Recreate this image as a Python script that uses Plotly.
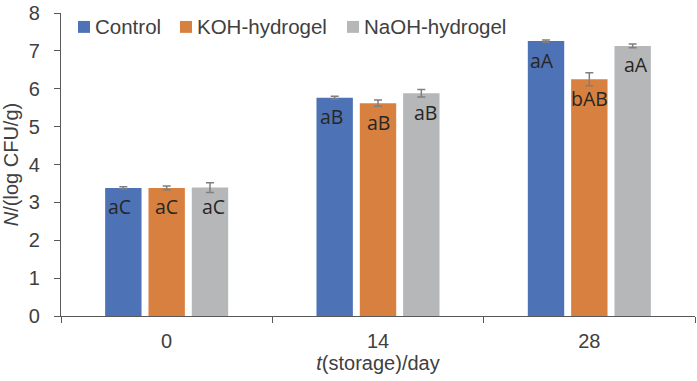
import plotly.graph_objects as go

days = ["0", "14", "28"]
series_names = ["Control", "KOH-hydrogel", "NaOH-hydrogel"]
control = [3.38, 5.76, 7.26]
koh = [3.38, 5.62, 6.25]
naoh = [3.39, 5.88, 7.13]
control_err = [0.03, 0.04, 0.03]
koh_err = [0.05, 0.08, 0.17]
naoh_err = [0.13, 0.10, 0.05]
control_lbl = ["aC", "aB", "aA"]
koh_lbl = ["aC", "aB", "bAB"]
naoh_lbl = ["aC", "aB", "aA"]
colors = ["#4E72B6", "#D8803F", "#B6B7B9"]
y_ticks = [0, 1, 2, 3, 4, 5, 6, 7, 8]

FONT = "Liberation Sans, Arial, sans-serif"
LBLFONT = "Open Sans, Noto Sans, sans-serif"
TXT = "#404040"

W, H = 697, 381
ML, MR, MT, MB = 61, 2, 11, 65

fig = go.Figure()
values = [control, koh, naoh]
errors = [control_err, koh_err, naoh_err]
labels = [control_lbl, koh_lbl, naoh_lbl]
group_shift = [-47, 0, 47]
for i, (name, vals, errs, lbls, col) in enumerate(zip(series_names, values, errors, labels, colors)):
    fig.add_trace(go.Bar(
        name=name, x=days, y=vals, marker=dict(color=col, line=dict(width=0)),
        error_y=dict(type="data", array=errs, visible=True, color="#7F7F7F",
                     thickness=1.5, width=4),
        showlegend=False,
    ))
    for j, (v, t) in enumerate(zip(vals, lbls)):
        fig.add_annotation(x=j, y=v, xref="x", yref="y", text=t, showarrow=False,
                           xshift=group_shift[i], yshift=-19, yanchor="middle",
                           font=dict(family=LBLFONT, size=19.5, color="#262626"))

# manual legend (Excel-style: small square right next to text)
leg_sq_x = [78, 180, 347]
leg_txt_x = [93, 195, 362]
leg_y = 25
PW, PH = W - ML - MR, H - MT - MB
for name, col, sx, tx in zip(series_names, colors, leg_sq_x, leg_txt_x):
    fig.add_shape(type="rect", xref="paper", yref="paper",
                  x0=(sx - ML) / PW, x1=(sx + 12 - ML) / PW,
                  y0=(H - MB - (leg_y + 6)) / PH, y1=(H - MB - (leg_y - 6)) / PH,
                  fillcolor=col, line=dict(width=0))
    fig.add_annotation(xref="paper", yref="paper", x=(tx - ML) / PW,
                       y=(H - MB - leg_y) / PH, text=name, showarrow=False,
                       xanchor="left", yanchor="middle",
                       font=dict(family=FONT, size=20.5, color=TXT))

fig.update_layout(
    width=W, height=H,
    margin=dict(l=ML, r=MR, t=MT, b=MB),
    paper_bgcolor="white", plot_bgcolor="white",
    barmode="group", bargap=0.385, bargroupgap=0.16,
    font=dict(family=FONT, size=20, color=TXT),
    showlegend=False,
    xaxis=dict(type="category", range=[-0.5, 2.5], showline=True, linecolor="#595959", linewidth=1.2,
               ticks="outside", ticklen=6, tickcolor="#595959", tickangle=0,
               tickson="boundaries", showgrid=False, ticklabelstandoff=7,
               tickfont=dict(size=20, color=TXT),
               title=dict(text="<i>t</i>(storage)/day", font=dict(size=20, color=TXT), standoff=4)),
    yaxis=dict(range=[0, 8], tickvals=y_ticks, showline=True, linecolor="#595959",
               linewidth=1.2, ticks="outside", ticklen=6, tickcolor="#595959",
               showgrid=False, zeroline=False, ticklabelstandoff=10,
               tickfont=dict(size=20, color=TXT),
               title=dict(text="<i>N</i>/(log CFU/g)", font=dict(size=20, color=TXT), standoff=4)),
)

fig.write_html("out.html")
